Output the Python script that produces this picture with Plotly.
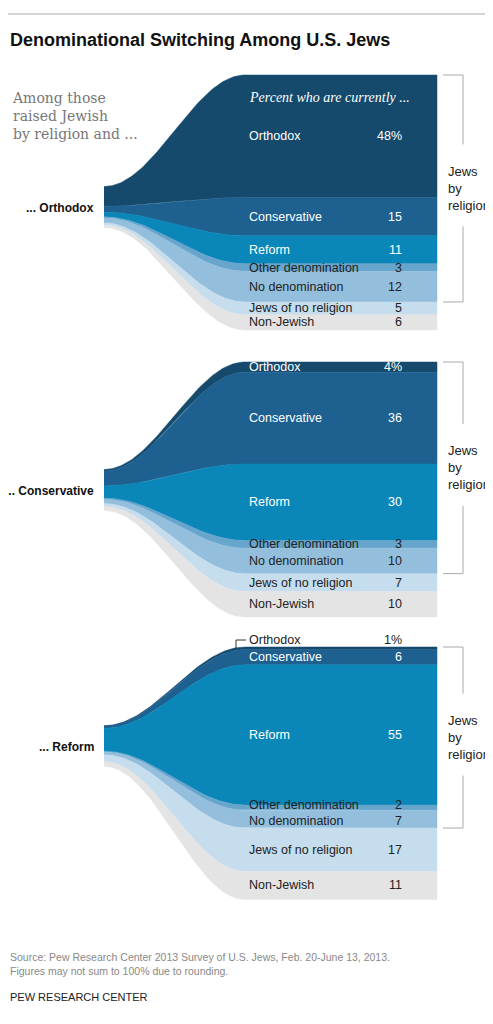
import numpy as np
import plotly.graph_objects as go

categories = ['Orthodox', 'Conservative', 'Reform', 'Other denomination',
              'No denomination', 'Jews of no religion', 'Non-Jewish']
raised = ['Orthodox', 'Conservative', 'Reform']
orthodox_vals = [48, 15, 11, 3, 12, 5, 6]
conservative_vals = [4, 36, 30, 3, 10, 7, 10]
reform_vals = [1, 6, 55, 2, 7, 17, 11]
value_labels = [['48%', '15', '11', '3', '12', '5', '6'],
                ['4%', '36', '30', '3', '10', '7', '10'],
                ['1%', '6', '55', '2', '7', '17', '11']]

colors = ['#154a6d', '#1e6190', '#0a87b8', '#67a5cd', '#93bfdd', '#c6ddee', '#e4e4e4']
text_colors = ['white', 'white', 'white', '#222', '#222', '#222', '#222']

panel_tops = [75, 362, 647]
stem_centers = [207, 490, 746]
px_per_pct = 2.55
stem_per_pct = 0.41
x_left, x_right, x_end = 104, 245, 437

fig = go.Figure()
t = np.linspace(0, 1, 80)
ease = (1 - np.cos(np.pi * t)) / 2
xs = x_left + (x_right - x_left) * t

for p, vals in enumerate([orthodox_vals, conservative_vals, reform_vals]):
    total = sum(vals)
    cum = np.concatenate([[0], np.cumsum(vals)])
    stem_top = stem_centers[p] - total * stem_per_pct / 2
    for i, v in enumerate(vals):
        l0 = stem_top + cum[i] * stem_per_pct
        l1 = stem_top + cum[i + 1] * stem_per_pct
        r0 = panel_tops[p] + cum[i] * px_per_pct
        r1 = panel_tops[p] + cum[i + 1] * px_per_pct
        top = l0 + (r0 - l0) * ease
        bot = l1 + (r1 - l1) * ease
        px = list(xs) + [x_end, x_end] + list(xs[::-1])
        py = list(top) + [r0, r1] + list(bot[::-1])
        fig.add_trace(go.Scatter(x=px, y=py, fill='toself', mode='lines',
                                 line=dict(width=0.5, color=colors[i]),
                                 fillcolor=colors[i], hoverinfo='skip',
                                 showlegend=False))
        mid = (r0 + r1) / 2
        tc = text_colors[i]
        if p == 2 and i == 0:
            mid = r0 - 7
            tc = '#222'
            fig.add_shape(type='line', x0=236, x1=246, y0=mid, y1=mid,
                          line=dict(color='#333', width=1))
            fig.add_shape(type='line', x0=236, x1=236, y0=mid, y1=r0 + 1,
                          line=dict(color='#333', width=1))
        if p == 2 and i == 3:
            mid -= 3
        if p == 2 and i == 4:
            mid += 2
        fig.add_annotation(x=247, y=mid, text=categories[i], xanchor='left',
                           showarrow=False, font=dict(size=12.5, color=tc))
        fig.add_annotation(x=404, y=mid, text=value_labels[p][i], xanchor='right',
                           showarrow=False, font=dict(size=12.5, color=tc))
    # raised label
    fig.add_annotation(x=96, y=stem_centers[p] + 1, text='<b>... ' + raised[p] + '</b>',
                       xanchor='right', showarrow=False, font=dict(size=12, color='#111'))
    # bracket for Jews by religion
    b0 = panel_tops[p]
    b1 = panel_tops[p] + cum[5] * px_per_pct
    bm = (b0 + b1) / 2
    ln = dict(color='#aaa', width=1)
    fig.add_shape(type='line', x0=443, x1=463, y0=b0, y1=b0, line=ln)
    fig.add_shape(type='line', x0=443, x1=463, y0=b1, y1=b1, line=ln)
    fig.add_shape(type='line', x0=463, x1=463, y0=b0, y1=bm - 44, line=ln)
    fig.add_shape(type='line', x0=463, x1=463, y0=bm + 38, y1=b1, line=ln)
    fig.add_annotation(x=446, y=bm, text='Jews<br>by<br>religion', xanchor='left',
                       align='left', showarrow=False,
                       font=dict(size=13, color='#222'))

fig.add_annotation(x=10, y=116, text='Among those<br>raised Jewish<br>by religion and ...',
                   xanchor='left', align='left', showarrow=False,
                   font=dict(size=14, color='#777', family='DejaVu Serif'))
fig.add_annotation(x=247, y=97, text='<i>Percent who are currently ...</i>', xanchor='left',
                   showarrow=False, font=dict(size=14, color='white', family='Liberation Serif'))
fig.add_annotation(x=8, y=40, text='<b>Denominational Switching Among U.S. Jews</b>',
                   xanchor='left', showarrow=False,
                   font=dict(size=18, color='#111'))
fig.add_annotation(x=8, y=964, text='Source: Pew Research Center 2013 Survey of U.S. Jews, Feb. 20-June 13, 2013.<br>Figures may not sum to 100% due to rounding.',
                   xanchor='left', align='left', showarrow=False,
                   font=dict(size=10.5, color='#888'))
fig.add_annotation(x=8, y=997, text='PEW RESEARCH CENTER', xanchor='left',
                   showarrow=False, font=dict(size=11, color='#222'))
fig.add_shape(type='line', x0=8, x1=493, y0=14, y1=14, line=dict(color='#aaa', width=1))

fig.update_layout(width=485, height=1016, margin=dict(l=0, r=0, t=0, b=0),
                  plot_bgcolor='white', paper_bgcolor='white',
                  font=dict(family='Liberation Sans'),
                  xaxis=dict(range=[8, 493], visible=False, fixedrange=True),
                  yaxis=dict(range=[1024, 8], visible=False, fixedrange=True))
fig.write_html('out.html')
